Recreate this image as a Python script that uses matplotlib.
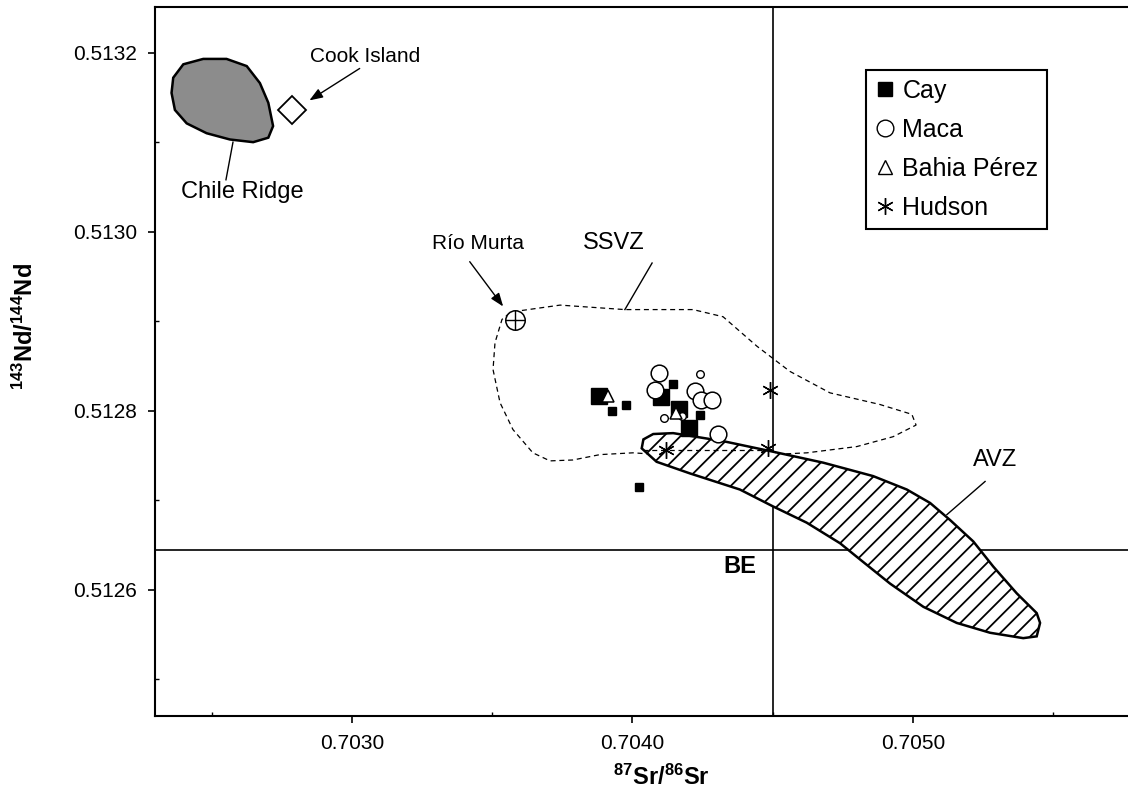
import numpy as np
import matplotlib
matplotlib.use('Agg')
import matplotlib.pyplot as plt
from matplotlib.patches import Polygon
from matplotlib.lines import Line2D

plt.rcParams['font.family'] = ['Liberation Sans', 'DejaVu Sans']
plt.rcParams['mathtext.fontset'] = 'custom'
plt.rcParams['mathtext.rm'] = 'Liberation Sans'
plt.rcParams['mathtext.bf'] = 'Liberation Sans:bold'
plt.rcParams['mathtext.default'] = 'bf'
plt.rcParams['hatch.linewidth'] = 1.3

# -- data (87Sr/86Sr, 143Nd/144Nd) --
cay_big_x = [0.703882, 0.704102, 0.704167, 0.704200]
cay_big_y = [0.512817, 0.512815, 0.512802, 0.512781]
cay_small_x = [0.703926, 0.703977, 0.704143, 0.704241, 0.704024]
cay_small_y = [0.512800, 0.512806, 0.512830, 0.512795, 0.512715]

maca_big_x = [0.704096, 0.704081, 0.704223, 0.704244, 0.704283, 0.704304]
maca_big_y = [0.512842, 0.512823, 0.512822, 0.512812, 0.512812, 0.512774]
maca_small_x = [0.704241, 0.704112, 0.704175]
maca_small_y = [0.512841, 0.512792, 0.512794]

bahia_x = [0.703914, 0.704155]
bahia_y = [0.512817, 0.512797]

hudson_x = [0.704119, 0.704484, 0.704490]
hudson_y = [0.512756, 0.512758, 0.512823]

rio_murta = (0.703581, 0.512901)
cook_island = (0.702786, 0.513136)

be_sr = 0.7045
be_nd = 0.512645

chile_ridge_x = [0.702363, 0.702399, 0.702470, 0.702553, 0.702625, 0.702672, 0.702702, 0.702719,
                 0.702702, 0.702648, 0.702565, 0.702482, 0.702411, 0.702369, 0.702357]
chile_ridge_y = [0.513172, 0.513187, 0.513193, 0.513193, 0.513185, 0.513166, 0.513144, 0.513118,
                 0.513105, 0.513100, 0.513103, 0.513110, 0.513121, 0.513136, 0.513155]

ssvz_x = [0.703606, 0.703742, 0.703973, 0.704216, 0.704323, 0.704444, 0.704561, 0.704704,
          0.704882, 0.704996, 0.705011, 0.704929, 0.704800, 0.704622, 0.704490, 0.704241,
          0.704098, 0.704002, 0.703884, 0.703788, 0.703706, 0.703645, 0.703574, 0.703528,
          0.703503, 0.703510, 0.703535, 0.703563]
ssvz_y = [0.512912, 0.512918, 0.512913, 0.512913, 0.512905, 0.512872, 0.512844, 0.512820,
          0.512807, 0.512796, 0.512784, 0.512771, 0.512760, 0.512753, 0.512751, 0.512750,
          0.512751, 0.512753, 0.512751, 0.512745, 0.512744, 0.512753, 0.512779, 0.512809,
          0.512846, 0.512876, 0.512902, 0.512909]

avz_x = [0.704039, 0.704074, 0.704145, 0.704324, 0.704490, 0.704680, 0.704858, 0.704978,
         0.705061, 0.705132, 0.705215, 0.705286, 0.705370, 0.705441, 0.705453, 0.705441,
         0.705393, 0.705275, 0.705156, 0.705037, 0.704918, 0.704799, 0.704740, 0.704621,
         0.704502, 0.704383, 0.704205, 0.704086, 0.704033]
avz_y = [0.512768, 0.512774, 0.512775, 0.512766, 0.512755, 0.512742, 0.512727, 0.512712,
         0.512697, 0.512678, 0.512654, 0.512626, 0.512596, 0.512574, 0.512563, 0.512548,
         0.512546, 0.512552, 0.512563, 0.512581, 0.512607, 0.512637, 0.512652, 0.512675,
         0.512693, 0.512712, 0.512730, 0.512743, 0.512758]

x_ticks = [0.7030, 0.7040, 0.7050]
y_ticks = [0.5126, 0.5128, 0.5130, 0.5132]

fig = plt.figure(figsize=(11.28, 7.94), dpi=100)
ax = fig.add_axes([0.1374, 0.0982, 0.8697, 0.893])
ax.set_xlim(0.702298, 0.705795)
ax.set_ylim(0.512459, 0.513251)

# fields
ax.add_patch(Polygon(np.column_stack([chile_ridge_x, chile_ridge_y]), closed=True,
                     facecolor='#8c8c8c', edgecolor='black', lw=1.8, zorder=2))
ax.add_patch(Polygon(np.column_stack([ssvz_x, ssvz_y]), closed=True, fill=False,
                     edgecolor='black', lw=0.9, ls=(0, (4, 3)), zorder=2))
ax.add_patch(Polygon(np.column_stack([avz_x, avz_y]), closed=True, facecolor='white',
                     edgecolor='black', hatch='//', lw=1.8, zorder=3))
ax.plot([avz_x[0], be_sr], [0.512756, 0.512756], color='black', lw=0.9,
        ls=(0, (4, 3)), zorder=3.5)

# bulk earth lines
ax.axvline(be_sr, color='black', lw=1.2, zorder=1)
ax.axhline(be_nd, color='black', lw=1.2, zorder=1)

# samples
ax.plot(cay_big_x, cay_big_y, 's', color='black', ms=11, zorder=5)
ax.plot(cay_small_x, cay_small_y, 's', color='black', ms=6, zorder=5)
ax.plot(maca_big_x, maca_big_y, 'o', mfc='white', mec='black', mew=1.1, ms=12, zorder=6)
ax.plot(maca_small_x, maca_small_y, 'o', mfc='white', mec='black', mew=1.0, ms=5.5, zorder=6)
ax.plot(bahia_x, bahia_y, '^', mfc='white', mec='black', mew=1.1, ms=9, zorder=7)
ax.plot(hudson_x, hudson_y, marker=(6, 2, 0), ls='none', color='black', mew=1.0, ms=12, zorder=7)
ax.plot(*rio_murta, 'o', mfc='white', mec='black', mew=1.1, ms=14, zorder=6)
ax.plot(*rio_murta, '+', color='black', mew=1.0, ms=14, zorder=7)
ax.plot(*cook_island, 'D', mfc='white', mec='black', mew=1.3, ms=14, zorder=6)

# labels
ax.text(0.703046, 0.513196, 'Cook Island', fontsize=15, ha='center', va='center')
ax.annotate('', xy=(0.702840, 0.513145), xytext=(0.703036, 0.513184),
            arrowprops=dict(arrowstyle='-|>,head_length=0.8,head_width=0.3',
                            color='black', lw=1.0))
ax.text(0.702608, 0.513044, 'Chile Ridge', fontsize=17, ha='center', va='center')
ax.plot([0.702576, 0.702551], [0.513100, 0.513058], color='black', lw=1.0)
ax.text(0.703449, 0.512987, 'Río Murta', fontsize=15, ha='center', va='center')
ax.annotate('', xy=(0.703545, 0.512914), xytext=(0.703414, 0.512969),
            arrowprops=dict(arrowstyle='-|>,head_length=0.8,head_width=0.3',
                            color='black', lw=1.0))
ax.text(0.703934, 0.512987, 'SSVZ', fontsize=17, ha='center', va='center')
ax.plot([0.704070, 0.703973], [0.512965, 0.512913], color='black', lw=1.0)
ax.text(0.705292, 0.512745, 'AVZ', fontsize=17, ha='center', va='center')
ax.plot([0.705257, 0.705121], [0.512721, 0.512684], color='black', lw=1.0)
ax.text(0.704383, 0.512626, 'BE', fontsize=17, fontweight='bold', ha='center', va='center')

# axes
ax.set_xticks(x_ticks)
ax.set_xticklabels([f'{v:.4f}' for v in x_ticks])
ax.set_yticks(y_ticks)
ax.set_yticklabels([f'{v:.4f}' for v in y_ticks])
ax.set_xticks([0.7025, 0.7035, 0.7045, 0.7055], minor=True)
ax.set_yticks([0.5125, 0.5127, 0.5129, 0.5131], minor=True)
ax.tick_params(which='major', direction='out', length=5, width=1.2, labelsize=15, pad=8)
ax.tick_params(which='minor', direction='in', length=3, width=1.0)
for s in ax.spines.values():
    s.set_linewidth(1.5)

ax.set_xlabel(r'$^{87}$Sr/$^{86}$Sr', fontsize=17, fontweight='bold', va='center')
ax.xaxis.set_label_coords(0.516, -0.086)
ax.set_ylabel(r'$^{143}$Nd/$^{144}$Nd', fontsize=17, fontweight='bold', va='center')
ax.yaxis.set_label_coords(-0.1325, 0.549)

# legend
handles = [
    Line2D([], [], marker='s', ls='none', color='black', ms=10),
    Line2D([], [], marker='o', ls='none', mfc='white', mec='black', ms=12),
    Line2D([], [], marker='^', ls='none', mfc='white', mec='black', ms=10),
    Line2D([], [], marker=(6, 2, 0), ls='none', color='black', ms=12),
]
leg = ax.legend(handles, ['Cay', 'Maca', 'Bahia Pérez', 'Hudson'], loc='upper left',
                bbox_to_anchor=(0.725, 0.911), borderaxespad=0, fontsize=18,
                frameon=True, fancybox=False, framealpha=1, edgecolor='black',
                handlelength=0.8, handletextpad=0.3, labelspacing=0.6,
                borderpad=0.35)
leg.get_frame().set_linewidth(1.5)

plt.savefig('out.png', dpi=100)
